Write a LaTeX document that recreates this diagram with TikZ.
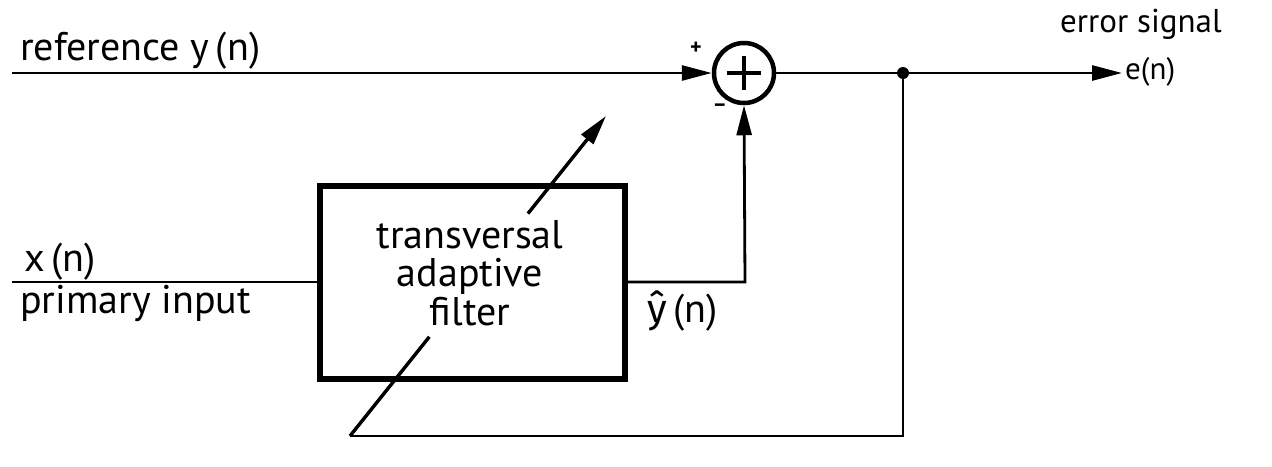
\documentclass[tikz,border=0pt]{standalone}
\usepackage{fontspec}
\setmainfont{PT Sans}
\newfontfamily\yhfont{Fira Sans}
\usetikzlibrary{arrows.meta,calc}
\tikzset{
  sig/.style={line width=2.8pt},
  arr/.style={sig,-{Triangle[length=30pt,width=15pt]}},
  lbl/.style={inner sep=0pt,font=\fontsize{40}{38.5}\selectfont},
  lblsmall/.style={inner sep=0pt,font=\fontsize{33}{38}\selectfont},
  lbltiny/.style={inner sep=0pt,font=\fontsize{31}{34}\selectfont},
  sml/.style={inner sep=0pt,font=\fontsize{22}{26}\selectfont\bfseries},
  filtbox/.style={draw,line width=6pt,minimum width=305pt,minimum height=193pt,inner sep=0pt},
  sumnode/.style={draw,circle,line width=4.5pt,minimum size=60pt,inner sep=0pt}
}
\begin{document}
\begin{tikzpicture}[x=1pt,y=-1pt]
\useasboundingbox (0,0) rectangle (1272,466);
% nodes
\node[sumnode] (sum) at (744,73) {};
\node[filtbox] (filt) at (472.5,282) {};
\node[lbl,align=center,anchor=base] (ftxt) at (470,325) {transversal\\adaptive\\filter};
% coordinates
\coordinate (refin) at (12,73);
\coordinate (xin) at (12,282);
\coordinate (yh) at (745,282);
\coordinate (dot) at (903,73);
\coordinate (eout) at (1122,73);
\coordinate (fbc) at (903,436);
\coordinate (fbend) at (350,436);
\coordinate (tip) at (606,116);
% plus in summer
\draw[line width=4pt] ([xshift=-17pt]sum.center) -- ([xshift=17pt]sum.center);
\draw[line width=4pt] ([yshift=-17pt]sum.center) -- ([yshift=17pt]sum.center);
% connectors
\draw[arr] (refin) -- (sum.west);
\draw[sig] (xin) -- (filt.west);
\draw[arr] (filt.east) -- (yh) -- (sum.south);
\draw[arr] (sum.east) -- (eout);
\fill (dot) circle (6pt);
\draw[sig] (dot) -- (fbc) -- (fbend);
\draw[sig,line width=3.4pt] (fbend) -- ($(fbend)!0.31!(tip)$);
\draw[arr,line width=3.4pt] ($(fbend)!0.695!(tip)$) -- (tip);
% labels
\node[lbl,anchor=base west] (lref) at (20,60) {reference y\,(n)};
\node[lbl,anchor=base west] (lx) at (24,271) {x\,(n)};
\node[lbl,anchor=base west] (lprim) at (20,313) {primary input};
\node[lbl,anchor=base west] (lyh) at (647,322) {{\yhfont ŷ}\,(n)};
\node[lblsmall,anchor=base west] (lerr) at (1060,32) {error signal};
\node[lbltiny,anchor=base west] (le) at (1125,79) {e(n)};
\node[sml] (lplus) at (696,48) {+};
\node[sml] (lminus) at (720,108) {–};
\end{tikzpicture}
\end{document}
